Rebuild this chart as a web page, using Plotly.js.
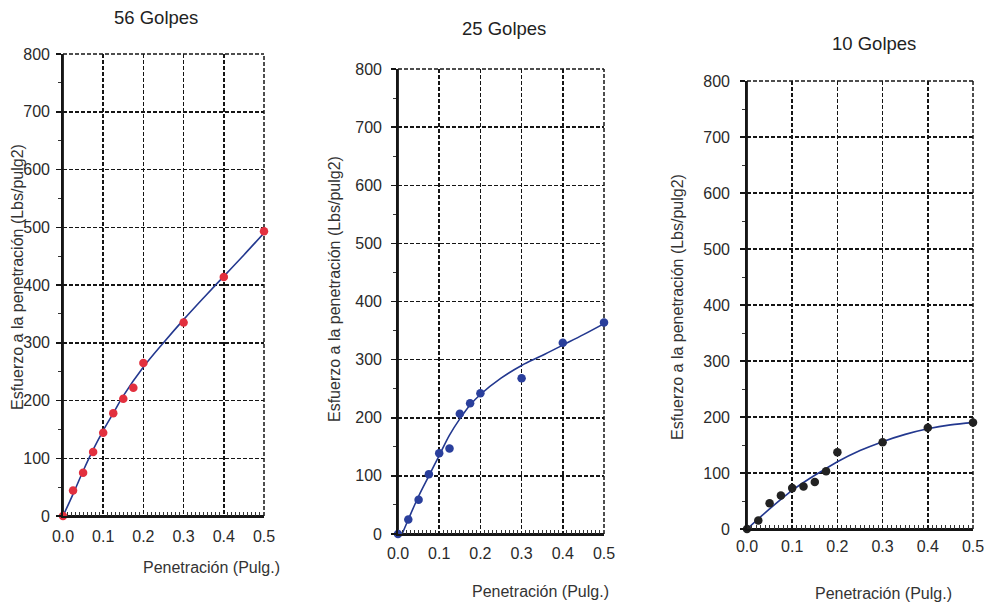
<!DOCTYPE html>
<html>
<head>
<meta charset="utf-8">
<script src="https://cdn.plot.ly/plotly-3.0.1.min.js"></script>
<style>html,body{margin:0;padding:0;background:#fff;}#chart{width:986px;height:603px;}</style>
</head>
<body>
<div id="chart"></div>
<script>
// ---- data ----
const titles = ["56 Golpes", "25 Golpes", "10 Golpes"];
const penetration = [0, 0.025, 0.05, 0.075, 0.1, 0.125, 0.15, 0.175, 0.2, 0.3, 0.4, 0.5];
const stress56 = [0, 44, 75, 111, 144, 178, 203, 222, 265, 335, 414, 493];
const stress25 = [0, 25, 59, 103, 139, 147, 207, 225, 242, 268, 329, 364];
const stress10 = [0, 15, 46, 60, 73, 76, 84, 103, 137, 155, 181, 190];

const fitX56 = [0, 0.025, 0.05, 0.075, 0.1, 0.125, 0.15, 0.2, 0.25, 0.3, 0.35, 0.4, 0.45, 0.5];
const fit56  = [0, 38, 78, 115, 148, 178, 208, 258, 300, 340, 378, 415, 452, 490];
const fitX25 = [0.01, 0.025, 0.05, 0.075, 0.1, 0.125, 0.15, 0.175, 0.2, 0.25, 0.3, 0.35, 0.4, 0.45, 0.5];
const fit25  = [0, 25, 65, 100, 135, 170, 198, 222, 240, 268, 290, 307, 325, 343, 362];
const fitX10 = [0, 0.025, 0.05, 0.075, 0.1, 0.125, 0.15, 0.175, 0.2, 0.25, 0.3, 0.35, 0.4, 0.45, 0.5];
const fit10  = [0, 18, 36, 53, 69, 83, 96, 108, 120, 140, 156, 169, 179, 186, 190];

const xRange = [0, 0.5];
const yRange = [0, 800];
const xStep = 0.1, xMinorStep = 0.01;
const yStep = 100, yMinorStep = 50;
const yTitle = "Esfuerzo a la penetración (Lbs/pulg2)";
const xTitle = "Penetración (Pulg.)";

// ---- layout helpers ----
const W = 986, H = 603;
const px = v => v / W;
const py = v => 1 - v / H;
const FONT = "Liberation Sans, Arial, sans-serif";
const INK = '#151515';

// plot area boxes [left, right, top, bottom] in pixels
const boxes = [[63, 264, 54, 516], [398, 604, 69, 534], [747, 973, 81, 529]];
const xStand = [5, 4, 2];
const yStand = [3, 6, 7];
const DASH = '4px,2px';
const GW = 1.5;

function xAxis(i) {
  const b = boxes[i];
  return {
    domain: [px(b[0]), px(b[1])], range: xRange, anchor: i === 0 ? 'y' : 'y' + (i + 1),
    tickmode: 'linear', tick0: 0, dtick: xStep, tickformat: '.1f', ticks: '', ticklabelstandoff: xStand[i],
    showgrid: true, gridcolor: INK, griddash: DASH, gridwidth: GW,
    showline: true, linecolor: INK, linewidth: 1.8, zeroline: false,
    minor: {tickmode: 'linear', tick0: 0, dtick: xMinorStep, ticks: 'inside', ticklen: 4, tickcolor: '#333', tickwidth: 1, showgrid: false},
    tickfont: {family: FONT, size: 16, color: '#2a2a2a'}, fixedrange: true
  };
}
function yAxis(i) {
  const b = boxes[i];
  return {
    domain: [py(b[3]), py(b[2])], range: yRange, anchor: i === 0 ? 'x' : 'x' + (i + 1),
    tickmode: 'linear', tick0: 0, dtick: yStep, ticks: 'outside', ticklen: 5, tickcolor: INK, tickwidth: 1.5,
    ticklabelstandoff: yStand[i],
    showgrid: true, gridcolor: INK, griddash: DASH, gridwidth: GW,
    showline: true, linecolor: INK, linewidth: 1.8, zeroline: false,
    minor: {tickmode: 'linear', tick0: 0, dtick: yMinorStep, ticks: 'outside', ticklen: 3, tickcolor: '#333', tickwidth: 1, showgrid: false},
    tickfont: {family: FONT, size: 16, color: '#2a2a2a'}, fixedrange: true
  };
}

const lineColor = '#23388f';
const markerColors = ['#e2303e', '#2a3f9c', '#222'];
const ptsY = [stress56, stress25, stress10];
const fitXs = [fitX56, fitX25, fitX10];
const fitYs = [fit56, fit25, fit10];

const traces = [];
for (let i = 0; i < 3; i++) {
  const xa = i === 0 ? 'x' : 'x' + (i + 1);
  const ya = i === 0 ? 'y' : 'y' + (i + 1);
  traces.push({x: fitXs[i], y: fitYs[i], xaxis: xa, yaxis: ya, mode: 'lines',
    line: {color: lineColor, width: 1.6, shape: 'spline', smoothing: 1}, hoverinfo: 'skip', cliponaxis: false});
  traces.push({x: penetration, y: ptsY[i], xaxis: xa, yaxis: ya, mode: 'markers',
    marker: {color: markerColors[i], size: 8.5}, cliponaxis: false});
}

const titlePos = [[156, 18], [504, 28], [874, 43]];
const yTitlePos = [[17, 277], [335, 289], [677, 307]];
const xTitlePos = [[211, 567], [540, 591], [883, 593]];
const annotations = [];
const shapes = [];
for (let i = 0; i < 3; i++) {
  annotations.push({text: titles[i], xref: 'paper', yref: 'paper', x: px(titlePos[i][0]), y: py(titlePos[i][1]),
    xanchor: 'center', yanchor: 'middle', showarrow: false, font: {family: FONT, size: 18.5, color: '#222'}});
  annotations.push({text: yTitle, xref: 'paper', yref: 'paper', x: px(yTitlePos[i][0]), y: py(yTitlePos[i][1]),
    xanchor: 'center', yanchor: 'middle', textangle: -90, showarrow: false, font: {family: FONT, size: 16, color: '#333'}});
  annotations.push({text: xTitle, xref: 'paper', yref: 'paper', x: px(xTitlePos[i][0]), y: py(xTitlePos[i][1]),
    xanchor: 'center', yanchor: 'middle', showarrow: false, font: {family: FONT, size: 16, color: '#333'}});
  // plot frame: solid left/bottom axis lines, dashed top/right border grid lines
  const xr = (i === 0 ? 'x' : 'x' + (i + 1)) + ' domain';
  const yr = (i === 0 ? 'y' : 'y' + (i + 1)) + ' domain';
  shapes.push({type: 'line', xref: xr, yref: yr, x0: 1, x1: 1, y0: 0, y1: 1, layer: 'below', line: {color: INK, width: GW, dash: DASH}});
  shapes.push({type: 'line', xref: xr, yref: yr, x0: 0, x1: 1, y0: 1, y1: 1, layer: 'below', line: {color: INK, width: GW, dash: DASH}});
  shapes.push({type: 'line', xref: xr, yref: yr, x0: 0, x1: 0, y0: 0, y1: 1, layer: 'below', line: {color: INK, width: 1.8}});
  shapes.push({type: 'line', xref: xr, yref: yr, x0: 0, x1: 1, y0: 0, y1: 0, layer: 'below', line: {color: INK, width: 1.8}});
}

const layout = {
  width: W, height: H, margin: {l: 0, r: 0, t: 0, b: 0},
  paper_bgcolor: '#fff', plot_bgcolor: '#fff', showlegend: false,
  xaxis: xAxis(0), yaxis: yAxis(0), xaxis2: xAxis(1), yaxis2: yAxis(1), xaxis3: xAxis(2), yaxis3: yAxis(2),
  annotations: annotations, shapes: shapes
};
Plotly.newPlot('chart', traces, layout, {staticPlot: true, displayModeBar: false});
</script>
</body>
</html>
